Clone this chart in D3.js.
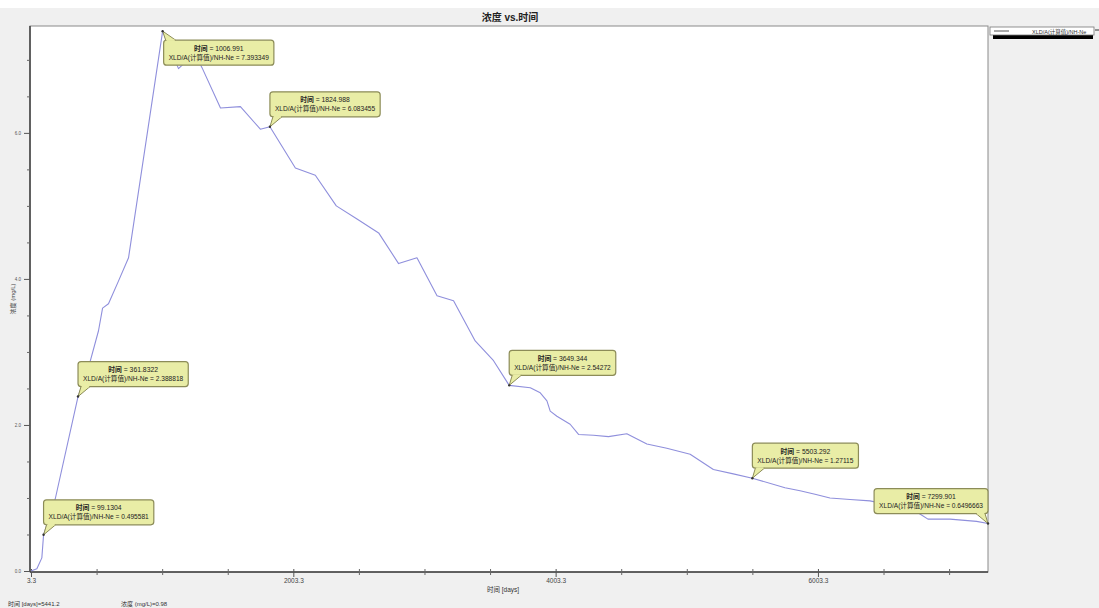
<!DOCTYPE html>
<html>
<head>
<meta charset="utf-8">
<script src="https://cdn.jsdelivr.net/npm/d3@7"></script>
<style>
  html, body { margin: 0; padding: 0; background: #f0f0f0; }
  svg { display: block; }
  text { font-family: "Liberation Sans", "Noto Sans CJK SC", sans-serif; }
</style>
</head>
<body>
<svg id="chart" width="1099" height="608"></svg>
<script>
// Concentration time series (days, mg/L)
const times = [3.3, 48, 86, 99.1304, 188, 361.8322, 442, 518, 549, 594, 670, 747,
  1006.991, 1128, 1204, 1280, 1308, 1448, 1600, 1752, 1824.988, 2019, 2171, 2331,
  2489, 2654, 2806, 2946, 3099, 3225, 3390, 3530, 3649.344, 3810, 3886, 3937, 3962,
  4013, 4114, 4178, 4292, 4406, 4546, 4699, 4851, 5029, 5206, 5358, 5503.292, 5752,
  5867, 5981, 6095, 6248, 6400, 6590, 6743, 6781, 6842, 7010, 7213, 7299.901];
const concentration = [0.0, 0.03, 0.18, 0.495581, 0.986, 2.388818, 2.79, 3.29, 3.60,
  3.66, 3.97, 4.29, 7.393349, 6.88, 7.01, 6.99, 6.89, 6.34, 6.36, 6.05, 6.083455,
  5.52, 5.42, 5.00, 4.82, 4.63, 4.21, 4.29, 3.77, 3.70, 3.15, 2.88, 2.54272, 2.51,
  2.44, 2.33, 2.19, 2.12, 2.01, 1.87, 1.86, 1.84, 1.88, 1.74, 1.68, 1.60, 1.39, 1.33,
  1.27115, 1.14, 1.10, 1.05, 1.00, 0.98, 0.96, 0.89, 0.82, 0.78, 0.71, 0.71, 0.68,
  0.6496663];

// Annotated points (time, value, text) and callout placement
const calloutTimes  = [99.1304, 361.8322, 1006.991, 1824.988, 3649.344, 5503.292, 7299.901];
const calloutValues = [0.495581, 2.388818, 7.393349, 6.083455, 2.54272, 1.27115, 0.6496663];
const calloutTimeText  = ["99.1304", "361.8322", "1006.991", "1824.988", "3649.344", "5503.292", "7299.901"];
const calloutValueText = ["0.495581", "2.388818", "7.393349", "6.083455", "2.54272", "1.27115", "0.6496663"];
const calloutSide = ["above-right", "above-right", "below-right", "above-right", "above-right", "above-right", "above-left"];

const xMajorTicks = [3.3, 2003.3, 4003.3, 6003.3];
const xMajorLabels = ["3.3", "2003.3", "4003.3", "6003.3"];
const xMinorTicks = [503.3, 1003.3, 1503.3, 2503.3, 3003.3, 3503.3, 4503.3, 5003.3, 5503.3, 6503.3, 7003.3];
const yMajorTicks = [0, 2, 4, 6];
const yMajorLabels = ["0.0", "2.0", "4.0", "6.0"];
const yMinorTicks = [0.5, 1, 1.5, 2.5, 3, 3.5, 4.5, 5, 5.5, 6.5, 7];

const seriesName = "XLD/A(计算值)/NH-Ne";
const chartTitle = "浓度 vs.时间";
const xTitle = "时间 [days]";
const yTitle = "浓度 (mg/L)";
const statusTime = "时间 [days]=5441.2";
const statusConc = "浓度 (mg/L)=0.98";

const svg = d3.select("#chart");
const W = 1099, H = 608;
const plot = { left: 30, right: 988, top: 26, bottom: 572 };

// background: white strip at the very top, gray window body
svg.append("rect").attr("x", 0).attr("y", 0).attr("width", W).attr("height", H).attr("fill", "#f0f0f0");
svg.append("rect").attr("x", 0).attr("y", 0).attr("width", W).attr("height", 8).attr("fill", "#ffffff");

const x = d3.scaleLinear().domain([times[0], times[times.length - 1]]).range([31, 988]);
const y = d3.scaleLinear().domain([0, 7.45]).range([571, 27]);

// plot area
svg.append("rect")
  .attr("x", plot.left).attr("y", plot.top)
  .attr("width", plot.right - plot.left).attr("height", plot.bottom - plot.top)
  .attr("fill", "#ffffff").attr("stroke", "#8a8a8a").attr("stroke-width", 1);
// heavier left / bottom axes
svg.append("line").attr("x1", plot.left).attr("x2", plot.left).attr("y1", plot.top).attr("y2", plot.bottom)
  .attr("stroke", "#404040").attr("stroke-width", 1.5);
svg.append("line").attr("x1", plot.left).attr("x2", plot.right).attr("y1", plot.bottom).attr("y2", plot.bottom)
  .attr("stroke", "#404040").attr("stroke-width", 1.5);

// x axis ticks
const xAxisMajor = d3.axisBottom(x).tickValues(xMajorTicks).tickSize(5)
  .tickFormat((d, i) => xMajorLabels[i]);
const gx = svg.append("g").attr("transform", `translate(0,${plot.bottom})`).call(xAxisMajor);
gx.select(".domain").remove();
gx.selectAll("line").attr("stroke", "#555").attr("y1", -3);
gx.selectAll("text").attr("font-size", 6.5).attr("fill", "#444").attr("dy", "0.5em");
const xAxisMinor = d3.axisBottom(x).tickValues(xMinorTicks).tickSize(3).tickFormat("");
const gxm = svg.append("g").attr("transform", `translate(0,${plot.bottom})`).call(xAxisMinor);
gxm.select(".domain").remove();
gxm.selectAll("line").attr("stroke", "#666").attr("y1", -3);

// y axis ticks
const yAxisMajor = d3.axisLeft(y).tickValues(yMajorTicks).tickSize(6)
  .tickFormat((d, i) => yMajorLabels[i]);
const gy = svg.append("g").attr("transform", `translate(${plot.left},0)`).call(yAxisMajor);
gy.select(".domain").remove();
gy.selectAll("line").attr("stroke", "#555");
gy.selectAll("text").attr("font-size", 4.5).attr("fill", "#555");
const yAxisMinor = d3.axisLeft(y).tickValues(yMinorTicks).tickSize(3).tickFormat("");
const gym = svg.append("g").attr("transform", `translate(${plot.left},0)`).call(yAxisMinor);
gym.select(".domain").remove();
gym.selectAll("line").attr("stroke", "#666");

// titles
svg.append("text").attr("x", 510).attr("y", 21).attr("text-anchor", "middle")
  .attr("font-size", 10).attr("font-weight", "bold").attr("fill", "#222").text(chartTitle);
svg.append("text").attr("x", 503).attr("y", 592).attr("text-anchor", "middle")
  .attr("font-size", 6.5).attr("fill", "#333").text(xTitle);
svg.append("text").attr("transform", "translate(15,299) rotate(-90)").attr("text-anchor", "middle")
  .attr("font-size", 6).attr("fill", "#444").text(yTitle);

// status bar
svg.append("text").attr("x", 8).attr("y", 606).attr("font-size", 6).attr("fill", "#333").text(statusTime);
svg.append("text").attr("x", 121).attr("y", 606).attr("font-size", 6).attr("fill", "#333").text(statusConc);

// series line
const data = times.map((t, i) => ({ t, v: concentration[i] }));
svg.append("path").datum(data)
  .attr("fill", "none").attr("stroke", "#8f8fdc").attr("stroke-width", 1.1)
  .attr("stroke-linejoin", "round")
  .attr("d", d3.line().x(d => x(d.t)).y(d => y(d.v)));

// callouts
const boxH = 25;
calloutTimes.forEach((t, i) => {
  const px = x(t), py = y(calloutValues[i]);
  const g = svg.append("g");
  const t1 = g.append("text").attr("font-size", 6.8).attr("fill", "#222");
  t1.append("tspan").attr("font-weight", "bold").text("时间");
  t1.append("tspan").text(` = ${calloutTimeText[i]}`);
  const t2 = g.append("text").attr("font-size", 6.6).attr("fill", "#222")
    .text(`${seriesName} = ${calloutValueText[i]}`);
  const tw = Math.max(t1.node().getComputedTextLength(), t2.node().getComputedTextLength());
  const bw = tw + 10;
  let bx, by, tail;
  const side = calloutSide[i];
  if (side === "above-right") {
    bx = px; by = py - 10 - boxH;
    tail = [[px + 3, by + boxH], [px, py], [px + 12, by + boxH]];
  } else if (side === "above-left") {
    bx = px - bw; by = py - 10 - boxH;
    tail = [[px - 12, by + boxH], [px, py], [px - 3, by + boxH]];
  } else {
    bx = px + 1; by = py + 9;
    tail = [[bx + 2, by], [px, py], [bx + 12, by]];
  }
  g.insert("rect", "text")
    .attr("x", bx).attr("y", by).attr("width", bw).attr("height", boxH)
    .attr("rx", 3).attr("ry", 3)
    .attr("fill", "#e9eda6").attr("stroke", "#8c8c58").attr("stroke-width", 1.2);
  g.insert("path", "text")
    .attr("d", d3.line()(tail))
    .attr("fill", "#e9eda6").attr("stroke", "#8c8c58").attr("stroke-width", 1);
  // cover the box edge where the tail joins
  const baseY = side === "below-right" ? by : by + boxH;
  g.insert("line", "text")
    .attr("x1", tail[0][0] + 1).attr("x2", tail[2][0] - 1)
    .attr("y1", baseY).attr("y2", baseY)
    .attr("stroke", "#e9eda6").attr("stroke-width", 1.6);
  g.append("circle").attr("cx", px).attr("cy", py).attr("r", 1.2).attr("fill", "#333");
  t1.attr("x", bx + bw / 2).attr("y", by + 10.5).attr("text-anchor", "middle");
  t2.attr("x", bx + bw / 2).attr("y", by + 19.5).attr("text-anchor", "middle");
});

// legend (clipped by the window edge)
const lg = svg.append("g");
lg.append("rect").attr("x", 993).attr("y", 31).attr("width", 100).attr("height", 8).attr("fill", "#000");
lg.append("rect").attr("x", 990).attr("y", 27).attr("width", 104).attr("height", 8)
  .attr("fill", "#ffffff").attr("stroke", "#777").attr("stroke-width", 0.8);
lg.append("line").attr("x1", 994).attr("x2", 1009).attr("y1", 31).attr("y2", 31)
  .attr("stroke", "#555").attr("stroke-width", 1);
lg.append("text").attr("x", 1032).attr("y", 33.5).attr("font-size", 5.5).attr("fill", "#333").text(seriesName);
lg.append("line").attr("x1", 1095).attr("x2", 1099).attr("y1", 30).attr("y2", 30).attr("stroke", "#333");
</script>
</body>
</html>
